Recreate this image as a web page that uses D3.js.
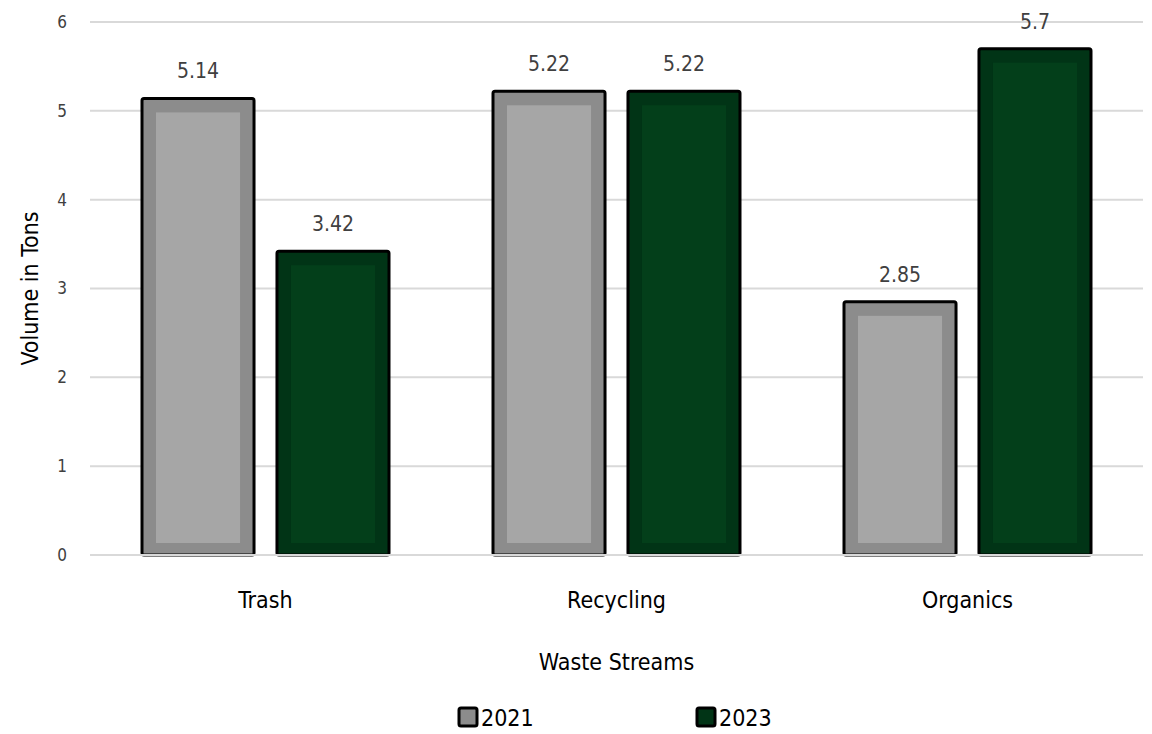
<!DOCTYPE html>
<html>
<head>
<meta charset="utf-8">
<script src="https://cdn.jsdelivr.net/npm/d3@7"></script>
<style>
  body { margin: 0; background: #fff; }
  text { font-family: "DejaVu Sans Condensed", "DejaVu Sans", sans-serif; font-stretch: condensed; }
</style>
</head>
<body>
<svg id="chart" width="1152" height="734"></svg>
<script>
// datos del gráfico
const categories = ["Trash", "Recycling", "Organics"];
const years = ["2021", "2023"];
const values2021 = [5.14, 5.22, 2.85];
const values2023 = [3.42, 5.22, 5.7];
const yTicks = [0, 1, 2, 3, 4, 5, 6];

const outerColor = { "2021": "#8c8c8c", "2023": "#013416" };
const innerColor = { "2021": "#a6a6a6", "2023": "#033f1a" };

const svg = d3.select("#chart");
const margin = { left: 90, right: 9, top: 22, bottom: 179 };
const width = 1152, height = 734;

const x = d3.scaleBand().domain(categories).range([margin.left, width - margin.right]);
const xYear = d3.scaleBand().domain(years).range([x.bandwidth() / 2 - 123.5, x.bandwidth() / 2 + 123.5]).paddingInner(0.17);
const y = d3.scaleLinear().domain([0, 6]).range([height - margin.bottom, margin.top]);

// líneas de la cuadrícula
svg.append("g").selectAll("line").data(yTicks).join("line")
  .attr("x1", margin.left).attr("x2", width - margin.right)
  .attr("y1", d => y(d)).attr("y2", d => y(d))
  .attr("stroke", "#d9d9d9").attr("stroke-width", 2);

// etiquetas del eje Y
svg.append("g").selectAll("text").data(yTicks).join("text")
  .attr("x", 62).attr("y", d => y(d)).attr("dy", "0.35em")
  .attr("text-anchor", "middle").attr("font-size", 17).attr("fill", "#404040")
  .text(d => d);

const rows = [];
categories.forEach((c, i) => {
  rows.push({ cat: c, year: "2021", value: values2021[i] });
  rows.push({ cat: c, year: "2023", value: values2023[i] });
});

const bars = svg.append("g").selectAll("g").data(rows).join("g")
  .attr("transform", d => `translate(${x(d.cat) + xYear(d.year)},0)`);

bars.append("rect")
  .attr("x", 0).attr("y", d => y(d.value))
  .attr("width", xYear.bandwidth()).attr("height", d => y(0) - y(d.value))
  .attr("rx", 2)
  .attr("fill", d => outerColor[d.year])
  .attr("stroke", "#000").attr("stroke-width", 3);

bars.append("rect")
  .attr("x", 14).attr("y", d => y(d.value) + 14)
  .attr("width", xYear.bandwidth() - 28)
  .attr("height", d => Math.max(0, y(0) - y(d.value) - 26))
  .attr("fill", d => innerColor[d.year]);

// etiquetas de valores
bars.append("text")
  .attr("x", xYear.bandwidth() / 2).attr("y", d => y(d.value) - 20)
  .attr("text-anchor", "middle").attr("font-size", 21).attr("fill", "#404040")
  .text(d => d.value);

// línea base
svg.append("line")
  .attr("x1", margin.left).attr("x2", width - margin.right)
  .attr("y1", y(0)).attr("y2", y(0))
  .attr("stroke", "#d9d9d9").attr("stroke-width", 2);

// etiquetas de categorías
svg.append("g").selectAll("text").data(categories).join("text")
  .attr("x", d => x(d) + x.bandwidth() / 2).attr("y", 608)
  .attr("text-anchor", "middle").attr("font-size", 23).attr("fill", "#000")
  .text(d => d);

// títulos de ejes
svg.append("text")
  .attr("x", x(categories[1]) + x.bandwidth() / 2).attr("y", 670)
  .attr("text-anchor", "middle").attr("font-size", 23).attr("fill", "#000")
  .text("Waste Streams");

svg.append("text")
  .attr("transform", `translate(38,${(y(0) + y(6)) / 2}) rotate(-90)`)
  .attr("text-anchor", "middle").attr("font-size", 23).attr("fill", "#000")
  .text("Volume in Tons");

// leyenda
const legendX = { "2021": 459, "2023": 697 };
const legend = svg.append("g").selectAll("g").data(years).join("g")
  .attr("transform", d => `translate(${legendX[d]},708)`);
legend.append("rect")
  .attr("x", 0).attr("y", 0).attr("width", 18).attr("height", 18).attr("rx", 2)
  .attr("fill", d => outerColor[d]).attr("stroke", "#000").attr("stroke-width", 3);
legend.append("text")
  .attr("x", 22).attr("y", 18)
  .attr("font-size", 23).attr("fill", "#000")
  .text(d => d);
</script>
</body>
</html>
